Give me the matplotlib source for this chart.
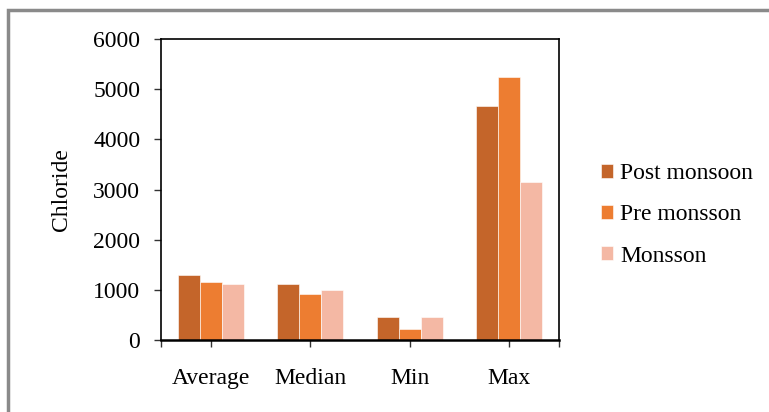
import matplotlib
matplotlib.use("Agg")
import matplotlib.pyplot as plt
from matplotlib.patches import Rectangle
import numpy as np

categories = ["Average", "Median", "Min", "Max"]
series_names = ["Post monsoon", "Pre monsson", "Monsson"]
post_monsoon = [1290, 1120, 460, 4670]
pre_monsoon = [1150, 920, 220, 5250]
monsoon = [1120, 990, 450, 3150]
y_ticks = [0, 1000, 2000, 3000, 4000, 5000, 6000]

colors = ["#C4652A", "#ED7D31", "#F4B8A4"]

plt.rcParams["font.family"] = ["Liberation Serif", "DejaVu Serif"]
FS = 17

fig = plt.figure(figsize=(7.69, 4.12), dpi=100)
W, H = 769, 412
ax = fig.add_axes([161 / W, 1 - 340 / H, (559 - 161) / W, (340 - 39) / H])

x = np.arange(len(categories))
bw = 0.22
for i, (vals, name, c) in enumerate(zip([post_monsoon, pre_monsoon, monsoon], series_names, colors)):
    ax.bar(x + (i - 1) * bw, vals, width=bw, color=c, label=name,
           edgecolor="white", linewidth=0.4)

ax.set_xlim(-0.5, 3.5)
ax.set_ylim(0, 6000)
ax.set_yticks(y_ticks)
ax.set_yticklabels([str(v) for v in y_ticks], fontsize=FS)
ax.set_xticks(x)
ax.set_xticklabels(categories, fontsize=FS)
ax.set_xticks([-0.5, 3.5], minor=True)
ax.tick_params(axis="x", which="both", direction="out", length=5, width=1, pad=15, color="#333333")
ax.tick_params(axis="y", direction="out", length=5, width=1, pad=10, color="#333333")
for s in ax.spines.values():
    s.set_linewidth(1.2)
    s.set_color("black")
ax.spines["bottom"].set_linewidth(1.8)
ax.set_ylabel("Chloride", fontsize=17, labelpad=15)

leg = ax.legend(loc="center left", bbox_to_anchor=(601 / W, 1 - 215 / H),
                bbox_transform=fig.transFigure, frameon=False, fontsize=FS,
                handlelength=0.5, handleheight=0.5, handletextpad=0.3,
                labelspacing=0.85, borderaxespad=0, borderpad=0)

fig.patches.append(Rectangle((8 / W, -0.1), 1.2, (1 - 10 / H) + 0.1,
                             transform=fig.transFigure, fill=False,
                             edgecolor="#8a8a8a", linewidth=2.5))

fig.savefig("out.png", dpi=100)
